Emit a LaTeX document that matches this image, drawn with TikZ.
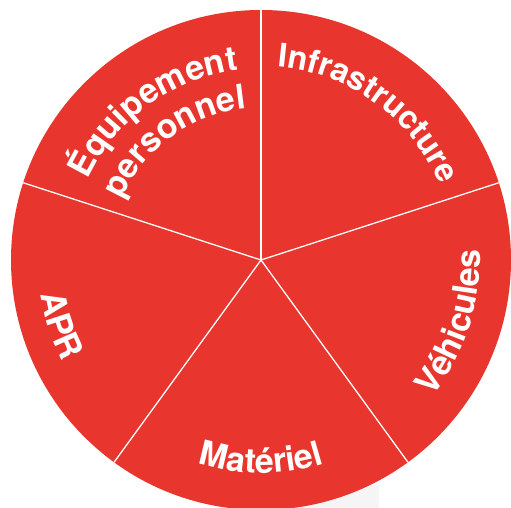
\documentclass[tikz,border=0pt]{standalone}
\usepackage{fontspec}
\setmainfont{TeX Gyre Heros}
\usetikzlibrary{decorations.text}
\definecolor{pie}{RGB}{232,53,45}
\definecolor{pale}{RGB}{245,245,245}
\newcommand\lblfont{\fontsize{34}{40}\selectfont\bfseries}
\newcommand\lblfonts{\fontsize{32.5}{38}\selectfont\bfseries}
\begin{document}
\begin{tikzpicture}[x=1pt,y=1pt,
  sep/.style={draw=white, line width=1.3pt},
  lbl/.style={decorate, decoration={text along path, text align=center, text color=white, text={|\lblfont|#1}}},
  lbls/.style={decorate, decoration={text along path, text align=center, text color=white, text={|\lblfonts|#1}}}]
\useasboundingbox (-261pt,-248pt) rectangle (250pt,260pt);
\fill[pale] (0pt,-248pt) rectangle (118pt,-225pt);
\coordinate (o) at (0,0);
\fill[pie] (o) circle[radius=250pt];
\coordinate (pa) at (90:250pt);
\coordinate (pb) at (18:250pt);
\coordinate (pc) at (-54:250pt);
\coordinate (pd) at (-126:250pt);
\coordinate (pe) at (162:250pt);
\draw[sep] (o) -- (pa);
\draw[sep] (o) -- (pb);
\draw[sep] (o) -- (pc);
\draw[sep] (o) -- (pd);
\draw[sep] (o) -- (pe);
% labels on arcs
\path[lbls=Infrastructure] (94:194pt) arc[start angle=94, end angle=14, radius=194pt];
\path[lbl=Équipement] (166:191pt) arc[start angle=166, end angle=86, radius=191pt];
\path[lbl=personnel] (166:152pt) arc[start angle=166, end angle=86, radius=152pt];
\path[lbl=Véhicules] (-58:219pt) arc[start angle=-58, end angle=22, radius=219pt];
\path[lbl=Matériel] (-130:213pt) arc[start angle=-130, end angle=-50, radius=213pt];
\path[lbl=APR] (158:223pt) arc[start angle=158, end angle=238, radius=223pt];
\end{tikzpicture}
\end{document}
